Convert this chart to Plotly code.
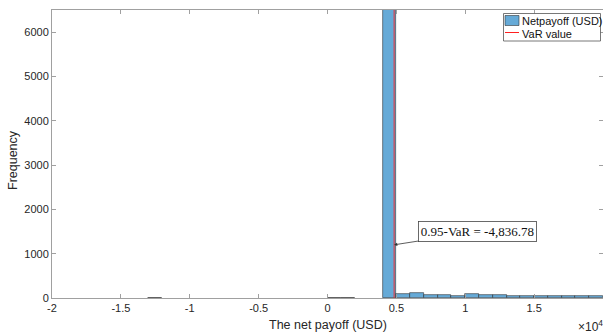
import plotly.graph_objects as go

# Histogram of the simulated net payoff (bin width 1,000 USD)
bin_left = [-13000, 0, 1000, 4000, 5000, 6000, 7000, 8000, 9000, 10000,
            11000, 12000, 13000, 14000, 15000, 16000, 17000, 18000, 19000]
counts = [10, 8, 8, 7400, 90, 105, 75, 60, 55, 90,
          65, 60, 55, 50, 50, 50, 50, 50, 50]
bin_width = 1000

var_value = 4836.78
var_label = "0.95-VaR = -4,836.78"

x_ticks = [-20000, -15000, -10000, -5000, 0, 5000, 10000, 15000, 20000]
x_tick_text = ["-2", "-1.5", "-1", "-0.5", "0", "0.5", "1", "1.5", "2"]
y_ticks = [0, 1000, 2000, 3000, 4000, 5000, 6000]

W, H = 603, 335
ML, MR, MT, MB = 52, 0, 10, 37
PW, PH = W - ML - MR, H - MT - MB

BAR_FILL = "#66AAD7"
BAR_EDGE = "rgba(30,30,30,0.75)"
AXIS = "#a0a0a0"
TXT = "#262626"


def px(x):
    return (x - ML) / PW


def py(y):
    return (H - MB - y) / PH


fig = go.Figure()

fig.add_trace(go.Bar(
    x=[b + bin_width / 2 for b in bin_left],
    y=counts,
    width=bin_width,
    marker=dict(color=BAR_FILL, line=dict(color=BAR_EDGE, width=0.7)),
    showlegend=False,
    hoverinfo="skip",
))

fig.add_trace(go.Scatter(
    x=[var_value, var_value],
    y=[0, max(counts)],
    mode="lines",
    line=dict(color="#ff2020", width=0.9),
    showlegend=False,
    hoverinfo="skip",
))

fig.add_annotation(
    x=var_value, y=1200, xref="x", yref="y",
    text=var_label,
    showarrow=True, arrowhead=2, arrowsize=0.8, arrowwidth=0.8,
    arrowcolor="#333333",
    ax=83, ay=-13,
    font=dict(family="Liberation Serif", size=13, color="#111111"),
    bgcolor="white", bordercolor="#444444", borderwidth=0.8, borderpad=2,
)

# Axis titles and exponent label
fig.add_annotation(
    x=px(328), y=py(325), xref="paper", yref="paper",
    text="The net payoff (USD)", showarrow=False,
    font=dict(family="Liberation Sans", size=12.5, color=TXT),
    xanchor="center", yanchor="middle",
)
fig.add_annotation(
    x=px(13), y=py(160), xref="paper", yref="paper",
    text="Frequency", showarrow=False, textangle=-90,
    font=dict(family="Liberation Sans", size=12.5, color=TXT),
    xanchor="center", yanchor="middle",
)
fig.add_annotation(
    x=px(576), y=py(326), xref="paper", yref="paper",
    text="×10<sup>4</sup>", showarrow=False,
    font=dict(family="Liberation Sans", size=12, color=TXT),
    xanchor="left", yanchor="middle",
)

# Legend box
fig.add_shape(type="rect", xref="paper", yref="paper",
              x0=px(503.5), x1=px(600.5), y0=py(41), y1=py(13.5),
              line=dict(color="#555555", width=0.8), fillcolor="white")
fig.add_shape(type="rect", xref="paper", yref="paper",
              x0=px(505), x1=px(519), y0=py(25.5), y1=py(15.5),
              line=dict(color=BAR_EDGE, width=0.7), fillcolor=BAR_FILL)
fig.add_shape(type="line", xref="paper", yref="paper",
              x0=px(505), x1=px(519), y0=py(32.5), y1=py(32.5),
              line=dict(color="#ff2020", width=1))
fig.add_annotation(x=px(520), y=py(20.5), xref="paper", yref="paper",
                   text="Netpayoff (USD)", showarrow=False,
                   font=dict(family="Liberation Sans", size=11, color="#111111"),
                   xanchor="left", yanchor="middle")
fig.add_annotation(x=px(520), y=py(34), xref="paper", yref="paper",
                   text="VaR value", showarrow=False,
                   font=dict(family="Liberation Sans", size=11, color="#111111"),
                   xanchor="left", yanchor="middle")

fig.update_layout(
    width=W, height=H,
    margin=dict(l=ML, r=MR, t=MT, b=MB),
    paper_bgcolor="white", plot_bgcolor="white",
    bargap=0,
    showlegend=False,
    font=dict(family="Liberation Sans", size=11, color=TXT),
)
fig.update_xaxes(
    range=[-20000, 20000], tickvals=x_ticks, ticktext=x_tick_text,
    showgrid=False, zeroline=False,
    showline=True, linecolor=AXIS, linewidth=1, mirror="ticks",
    ticks="inside", ticklen=4, tickcolor=AXIS, tickwidth=1,
    tickfont=dict(family="Liberation Sans", size=11, color=TXT),
)
fig.update_yaxes(
    range=[0, 6500], tickvals=y_ticks,
    showgrid=False, zeroline=False,
    showline=True, linecolor=AXIS, linewidth=1, mirror="ticks",
    ticks="inside", ticklen=4, tickcolor=AXIS, tickwidth=1,
    tickfont=dict(family="Liberation Sans", size=11, color=TXT),
)

fig.write_html("out.html")
